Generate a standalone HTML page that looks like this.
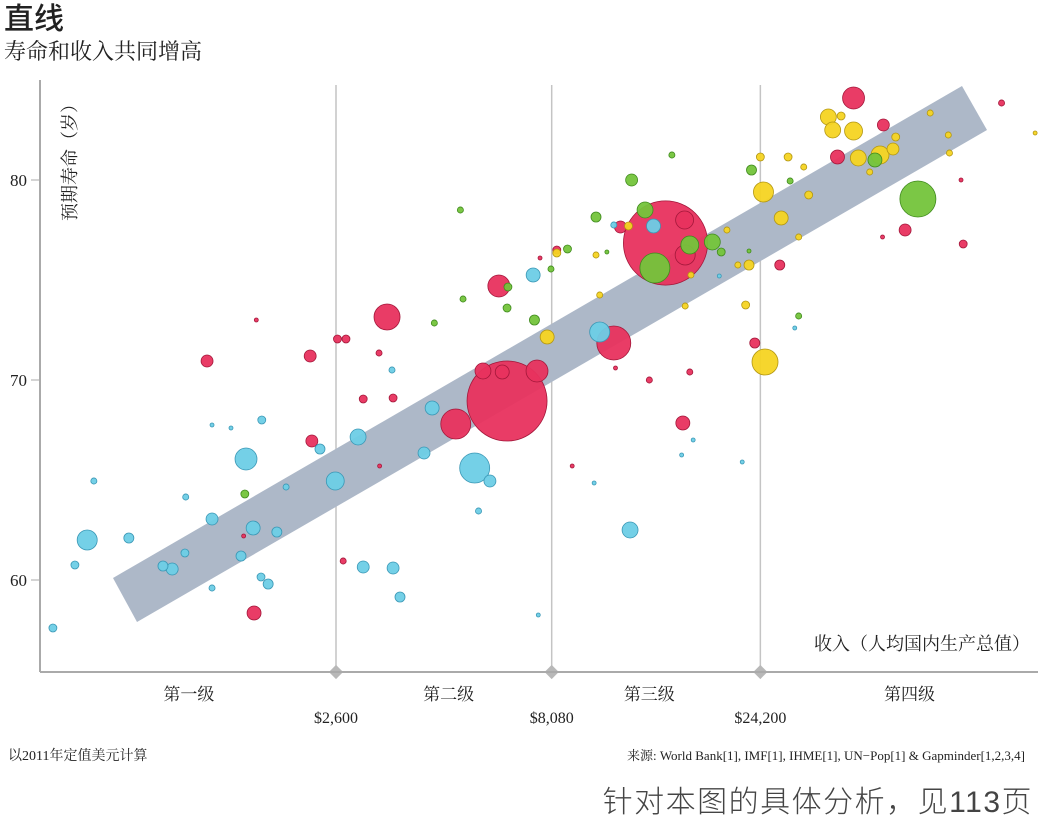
<!DOCTYPE html>
<html><head><meta charset="utf-8">
<style>
body{margin:0;background:#fff;width:1038px;height:817px;overflow:hidden;}
svg text{font-family:"Liberation Serif","Noto Serif CJK SC",serif;fill:#222;}
</style></head>
<body>
<svg id="chart" width="1038" height="817" xmlns="http://www.w3.org/2000/svg">
<text x="4" y="29" font-size="30" style="font-family:'Liberation Sans','Noto Sans CJK SC',sans-serif;font-weight:500">直线</text>
<text x="4" y="59" font-size="22">寿命和收入共同增高</text>
<g id="grid"></g>
<polygon points="113,578 962,86 987,130 137,622" fill="#adb8c8"/>
<g id="bubbles"></g>
<g id="axes"></g>
<text transform="translate(76,158) rotate(-90)" text-anchor="middle" font-size="18">预期寿命（岁）</text>
<text x="1030" y="650" text-anchor="end" font-size="18">收入（人均国内生产总值）</text>
<text x="8" y="760" font-size="14">以2011年定值美元计算</text>
<text x="1025" y="760" text-anchor="end" font-size="13">来源: World Bank[1], IMF[1], IHME[1], UN−Pop[1] &amp; Gapminder[1,2,3,4]</text>
<text x="1033" y="812" text-anchor="end" font-size="30" letter-spacing="1.5" style="font-family:'Liberation Sans','Noto Sans CJK SC',sans-serif;fill:#444;font-weight:300">针对本图的具体分析，见113页</text>
</svg>
<script>
const yTicks=[60,70,80];
const xBoundaries=[2600,8080,24200];
const xBoundaryLabels=["$2,600","$8,080","$24,200"];
const levelLabels=["第一级","第二级","第三级","第四级"];
const levelCenters=[1200,4700,13500,53000];
const incomes=[587,703,659,728,875,1047,1099,1175,1180,1355,1355,1355,1497,1620,1682,1578,1753,1820,1760,1905,2000,2390,2590,2920,3000,3510,3640,3490,4130,4310,5390,5840,5500,7330,7530,10400,10100,12200,11200,13800,17000,16000,22000,29000,19500,
6390,14700,6120,3400,4880,7480,11200,39500,23500,16100,1320,2270,2290,1690,2620,2740,1710,3260,3000,3270,2700,3510,5630,6230,8300,7600,9000,11300,11600,13500,16700,26800,36300,46200,51800,70300,86000,46000,69500,1600,16300,16250,
13900,18800,12300,13200,55400,44200,16700,5000,4360,5070,6420,6390,7380,8050,8780,10200,10800,15200,1610,23100,19700,22800,28300,29600,
24800,24600,27000,34600,35400,39500,40500,45400,48600,49300,43000,37000,22800,22400,20300,7890,8300,10400,10200,12100,16300,24200,28000,30400,31200,29600,59100,65000,65400,102600,21500,16800];
const lifeExp=[57.6,62.0,60.75,64.95,62.1,60.7,60.55,61.35,64.15,63.05,67.75,59.6,67.6,66.05,62.6,61.2,60.15,59.8,68.0,62.4,64.65,66.55,64.95,67.15,60.65,60.6,59.15,70.5,66.35,68.6,65.6,64.95,63.45,75.25,58.25,72.4,64.85,62.5,77.75,77.7,67.0,66.25,65.9,72.6,75.2,
68.95,76.85,74.7,73.15,67.8,70.45,71.85,84.1,71.85,67.85,70.95,71.2,66.95,58.35,72.05,72.05,73.0,71.35,69.05,65.7,60.95,69.1,70.45,70.4,76.5,76.1,65.7,70.6,77.65,70.0,70.4,75.75,81.15,82.75,77.5,76.8,83.85,77.15,80.0,62.2,76.25,78.0,
75.6,76.9,80.0,78.5,79.05,81.0,76.75,78.5,72.85,74.05,74.65,73.6,73.0,75.55,76.55,78.15,76.4,81.25,64.3,80.5,76.4,76.45,79.95,73.2,
70.9,79.4,78.1,83.15,82.5,82.45,81.1,81.25,81.55,82.15,80.4,83.2,75.75,73.75,77.5,72.15,76.35,74.25,76.25,77.7,73.7,81.15,81.15,80.65,79.25,77.15,83.35,82.25,81.35,82.35,75.75,75.25];
const population=[12,76,12,7,19,19,27,12,7,27,3,7,3,91,37,19,12,19,12,19,7,19,61,48,27,27,19,7,27,37,170,27,7,37,3,76,3,48,7,37,3,3,3,3,3,
1210,1340,91,128,170,91,218,91,19,37,27,27,27,37,12,12,3,7,12,3,7,12,48,37,12,3,3,3,27,7,7,19,37,27,27,12,7,3,3,3,76,61,
170,48,27,48,245,37,61,7,7,7,12,12,19,7,12,19,3,7,12,19,12,3,7,7,
128,76,37,48,48,61,48,61,27,12,7,12,19,12,7,37,12,7,7,12,7,12,12,7,12,7,7,7,7,3,7,7];
const regions=[].concat(Array(45).fill("a"),Array(42).fill("r"),Array(24).fill("g"),Array(32).fill("y"));
const fills={a:"#6dcde6",r:"#e8315e",g:"#74c43b",y:"#f5d422"};
const strokes={a:"#3a97b5",r:"#a3173a",g:"#3f8a1d",y:"#b29612"};
const NS="http://www.w3.org/2000/svg";
function xScale(v){return 336+(Math.log10(v)-Math.log10(2600))*438;}
function yScale(v){return 180+(80-v)*20;}
function rScale(p){return 1.15*Math.sqrt(p);}
const grid=document.getElementById('grid'),axes=document.getElementById('axes'),bub=document.getElementById('bubbles');
function mk(tag,attrs,parent){const e=document.createElementNS(NS,tag);for(const k in attrs)e.setAttribute(k,attrs[k]);parent.appendChild(e);return e;}
xBoundaries.forEach((b,i)=>{
  const x=xScale(b);
  const l=mk('line',{x1:x,x2:x,y1:85,y2:672,stroke:'#c4c4c4','stroke-width':1.5},grid);
  
  
  const d=mk('rect',{x:x-5,y:667,width:10,height:10,fill:'#b8b8b8',transform:`rotate(45 ${x} 672)`},axes);
  
  
  const t=mk('text',{x:x,y:723,'text-anchor':'middle','font-size':16},axes);
  t.textContent=xBoundaryLabels[i];
  
  
});
levelLabels.forEach((s,i)=>{
  const t=mk('text',{x:xScale(levelCenters[i]),y:700,'text-anchor':'middle','font-size':17},axes);
  t.textContent=s;
  
  
});
const ya=mk('line',{x1:40,x2:40,y1:80,y2:672,stroke:'#aaa','stroke-width':2},axes);


const xa=mk('line',{x1:40,x2:1038,y1:672,y2:672,stroke:'#aaa','stroke-width':2},axes);


yTicks.forEach(v=>{
  const y=yScale(v);
  mk('line',{x1:31,x2:39,y1:y,y2:y,stroke:'#aaa'},axes);
  const t=mk('text',{x:27,y:y+6,'text-anchor':'end','font-size':17},axes);
  t.textContent=v;
  
  
});
const idx=incomes.map((_,i)=>i).sort((a,b)=>population[b]-population[a]);
idx.forEach(i=>{
  const c=mk('circle',{cx:xScale(incomes[i]),cy:yScale(lifeExp[i]),r:rScale(population[i]),fill:fills[regions[i]],stroke:strokes[regions[i]],'stroke-width':0.8,'fill-opacity':0.95},bub);
  
  
});
</script>
</body></html>
